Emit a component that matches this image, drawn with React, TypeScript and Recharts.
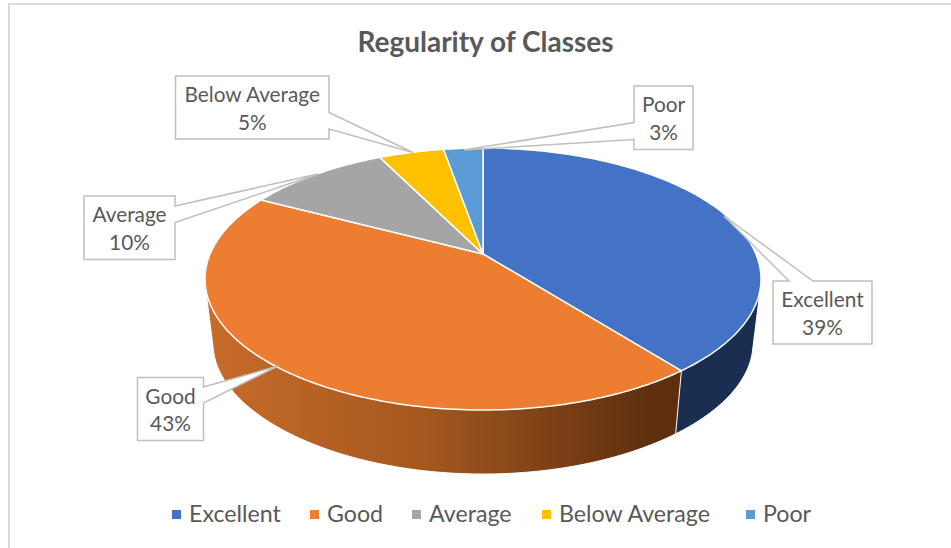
import React from "react";
import { PieChart, Pie, Legend } from "recharts";

const categories = ["Excellent", "Good", "Average", "Below Average", "Poor"];
const values = [39.4, 43.3, 10.0, 4.55, 2.75];
const topColors = ["#4472C4", "#ED7D31", "#A5A5A5", "#FFC000", "#5B9BD5"];
const sideColors = ["#1A2E52", "url(#goodSide)", "#636363", "#997300", "#2E5F8F"];
const chartTitle = "Regularity of Classes";

const data = categories.map((name, i) => ({ name, value: values[i], fill: topColors[i] }));

const W = 951;
const H = 548;
const CX = 483;
const CY = 254;
const R = 272.9;
const K = 0.191;
const YS = 0.4625;
const RAD = Math.PI / 180;
const FONT = "Lato, Carlito, sans-serif";

type Pt = [number, number];

// Perspective projection of the pie disc
const top = (cx: number, cy: number, r: number, a: number): Pt => {
  const u = Math.cos(a * RAD);
  const v = Math.sin(a * RAD);
  const w = 1 + K * v;
  return [cx + (r * u) / w, cy - (r * YS * v) / w];
};
const bottom = (cx: number, cy: number, r: number, a: number): Pt => {
  const u = Math.cos(a * RAD);
  const v = Math.sin(a * RAD);
  return [cx + (r * 0.971 * u) / (1 + K * v), cy + 66 - (r * 0.4346 * v) / (1 + 0.23 * v)];
};
const arc = (f: typeof top, cx: number, cy: number, r: number, a0: number, a1: number) => {
  const n = Math.max(2, Math.ceil(Math.abs(a1 - a0)));
  const pts: Pt[] = [];
  for (let i = 0; i <= n; i++) pts.push(f(cx, cy, r, a0 + ((a1 - a0) * i) / n));
  return pts;
};
const toPath = (pts: Pt[]) =>
  "M" + pts.map((p) => `${p[0].toFixed(2)},${p[1].toFixed(2)}`).join("L") + "Z";

// Monotone-chain hull: an extruded slice fills the hull of its two rims
const hull = (input: Pt[]) => {
  const pts = [...input].sort((a, b) => a[0] - b[0] || a[1] - b[1]);
  const cross = (o: Pt, a: Pt, b: Pt) => (a[0] - o[0]) * (b[1] - o[1]) - (a[1] - o[1]) * (b[0] - o[0]);
  const build = (list: Pt[]) => {
    const out: Pt[] = [];
    for (const p of list) {
      while (out.length >= 2 && cross(out[out.length - 2], out[out.length - 1], p) <= 0) out.pop();
      out.push(p);
    }
    out.pop();
    return out;
  };
  return [...build(pts), ...build([...pts].reverse())];
};

const TopSlice = (p: any) => {
  const pts = arc(top, p.cx, p.cy, p.outerRadius, p.startAngle, p.endAngle);
  return <path d={toPath([[p.cx, p.cy], ...pts])} fill={p.fill} stroke="#FFFFFF" strokeWidth={1.5} strokeLinejoin="round" />;
};
const SideSlice = (p: any) => {
  const upper = arc(top, p.cx, p.cy, p.outerRadius, p.startAngle, p.endAngle);
  const lower = arc(bottom, p.cx, p.cy, p.outerRadius, p.endAngle, p.startAngle);
  return <path d={toPath(hull([...upper, ...lower]))} fill={sideColors[p.index]} stroke="#FFFFFF" strokeWidth={1} strokeLinejoin="round" />;
};

// Callout boxes: [x0, y0, x1, y1] plus the pointer tip and its base on the box edge
const callouts = [
  { box: [773, 281, 872, 344], tip: [724, 216], edge: "top", base: [789, 813] },
  { box: [137.5, 377.5, 203.5, 440.5], tip: [278, 366], edge: "right", base: [387, 403] },
  { box: [84, 196, 175, 259.5], tip: [318, 174], edge: "right", base: [206, 222.5] },
  { box: [175.5, 76, 329, 139], tip: [413, 152.5], edge: "right", base: [112.5, 129] },
  { box: [634, 86, 693, 149.5], tip: [464, 150], edge: "left", base: [122.5, 139.5] },
];

const Callout = (p: any) => {
  const c = callouts[p.index];
  const [x0, y0, x1, y1] = c.box;
  const [tx, ty] = c.tip;
  const [b0, b1] = c.base;
  let d = "";
  if (c.edge === "top") d = `M${x0},${y0}H${b0}L${tx},${ty}L${b1},${y0}H${x1}V${y1}H${x0}Z`;
  if (c.edge === "right") d = `M${x0},${y0}H${x1}V${b0}L${tx},${ty}L${x1},${b1}V${y1}H${x0}Z`;
  if (c.edge === "left") d = `M${x0},${y0}H${x1}V${y1}H${x0}V${b1}L${tx},${ty}L${x0},${b0}Z`;
  const mx = (x0 + x1) / 2;
  const my = (y0 + y1) / 2;
  return (
    <g>
      <path d={d} fill="#FFFFFF" stroke="#BFBFBF" strokeWidth={1.5} strokeLinejoin="miter" />
      <text x={mx} y={my - 5.5} textAnchor="middle" fontFamily={FONT} fontSize={20.8} fill="#595959">
        {p.name}
      </text>
      <text x={mx} y={my + 22} textAnchor="middle" fontFamily={FONT} fontSize={20.8} fill="#595959">
        {`${Math.round(p.percent * 100)}%`}
      </text>
    </g>
  );
};

const legendStarts = [172, 310, 412, 542, 746];

const LegendContent = () => (
  <div style={{ position: "relative", width: W, height: 30 }}>
    {categories.map((name, i) => (
      <div key={name} style={{ position: "absolute", left: legendStarts[i], top: 0, height: 30, whiteSpace: "nowrap" }}>
        <span style={{ position: "absolute", left: 0, top: 12, width: 9, height: 9, background: topColors[i] }} />
        <span style={{ position: "absolute", left: 17, top: 0, fontFamily: FONT, fontSize: 23.2, lineHeight: "30px", color: "#595959" }}>
          {name}
        </span>
      </div>
    ))}
  </div>
);

export default function App() {
  return (
    <div style={{ position: "absolute", left: 0, top: 0, width: W, height: H, overflow: "hidden", background: "#FFFFFF" }}>
      <PieChart width={W} height={H} margin={{ top: 0, right: 0, bottom: 0, left: 0 }}>
        <defs>
          <linearGradient id="goodSide" gradientUnits="userSpaceOnUse" x1={205} y1={0} x2={650} y2={0}>
            <stop offset="0" stopColor="#C86C2A" />
            <stop offset="0.5" stopColor="#A4571F" />
            <stop offset="1" stopColor="#5E2F0F" />
          </linearGradient>
        </defs>
        <path d={`M9,${H}V4H${W}`} fill="none" stroke="#D9D9D9" strokeWidth={2} />
        <text x={485.5} y={51.5} textAnchor="middle" fontFamily={FONT} fontWeight={700} fontSize={28} fill="#595959">
          {chartTitle}
        </text>
        <Pie
          data={data}
          dataKey="value"
          nameKey="name"
          cx={CX}
          cy={CY}
          outerRadius={R}
          startAngle={90}
          endAngle={-270}
          legendType="none"
          shape={SideSlice}
          label={false}
          labelLine={false}
          stroke="none"
          isAnimationActive={false}
        />
        <Pie
          data={data}
          dataKey="value"
          nameKey="name"
          cx={CX}
          cy={CY}
          outerRadius={R}
          startAngle={90}
          endAngle={-270}
          shape={TopSlice}
          label={Callout}
          labelLine={false}
          stroke="none"
          isAnimationActive={false}
        />
        <Legend content={LegendContent} wrapperStyle={{ left: 0, top: 498, width: W, height: 30 }} />
      </PieChart>
    </div>
  );
}
